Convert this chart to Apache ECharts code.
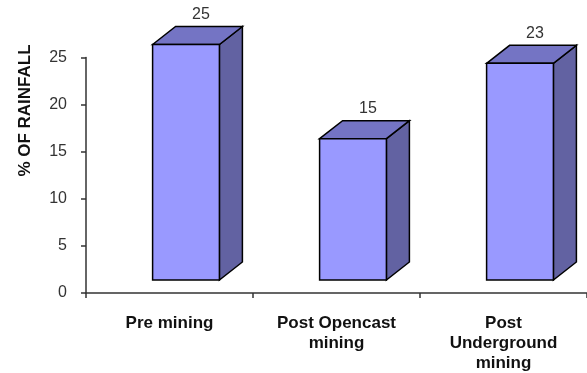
<!DOCTYPE html>
<html>
<head>
<meta charset="utf-8">
<script src="https://cdn.jsdelivr.net/npm/echarts@6/dist/echarts.min.js"></script>
<style>
html,body{margin:0;padding:0;background:#fff;}
#chart{width:587px;height:373px;}
</style>
</head>
<body>
<div id="chart"></div>
<script>
var categories = ['Pre mining', 'Post Opencast\nmining', 'Post\nUnderground\nmining'];
var rainfallPct = [25, 15, 23];
var yTicks = [0, 5, 10, 15, 20, 25];
var yTitle = '% OF RAINFALL';

var chart = echarts.init(document.getElementById('chart'), null, {renderer: 'canvas'});

var FONT = '"Liberation Sans", Arial, sans-serif';
var FRONT = '#9999FF', TOP = '#7474C4', SIDE = '#6262A2';

function renderItem(params, api) {
  var idx = api.value(0), v = api.value(1);
  var topPt = api.coord([idx, v]);
  var basePt = api.coord([idx, 0]);
  var bw = api.size([1, 0])[0] * 0.4;
  var ox = 16.5, oy = -13, dx = 23, dy = -18;
  var x0 = topPt[0] - bw / 2 + ox, x1 = topPt[0] + bw / 2 + ox;
  var yT = topPt[1] + oy, yB = basePt[1] + oy;
  var stroke = {stroke: '#000', lineWidth: 1.5, lineJoin: 'miter'};
  return {
    type: 'group',
    children: [
      {type: 'polygon', shape: {points: [[x1, yT], [x1 + dx, yT + dy], [x1 + dx, yB + dy], [x1, yB]]},
        style: Object.assign({fill: SIDE}, stroke)},
      {type: 'polygon', shape: {points: [[x0, yT], [x0 + dx, yT + dy], [x1 + dx, yT + dy], [x1, yT]]},
        style: Object.assign({fill: TOP}, stroke)},
      {type: 'rect', shape: {x: x0, y: yT, width: x1 - x0, height: yB - yT},
        style: Object.assign({fill: FRONT}, stroke)},
      {type: 'text', x: (x0 + x1) / 2 + 15, y: yT + dy - 4,
        style: {text: String(api.value(1)), fill: '#333', font: '16px ' + FONT,
          textAlign: 'center', textVerticalAlign: 'bottom'}}
    ]
  };
}

var option = {
  backgroundColor: '#fff',
  animation: false,
  grid: {left: 86, right: -1, top: 57.5, bottom: 79, containLabel: false},
  xAxis: {
    type: 'category',
    data: categories,
    boundaryGap: true,
    axisLine: {show: true, lineStyle: {color: '#333', width: 1.5}},
    axisTick: {show: true, length: 5, lineStyle: {color: '#333', width: 1.5}},
    axisLabel: {interval: 0, margin: 20, fontSize: 17, fontWeight: 'bold', fontFamily: FONT,
      color: '#111', lineHeight: 20}
  },
  yAxis: {
    type: 'value',
    min: yTicks[0], max: yTicks[yTicks.length - 1], interval: 5,
    axisLine: {show: true, lineStyle: {color: '#333', width: 1.5}},
    axisTick: {show: true, length: 5, lineStyle: {color: '#333', width: 1.5}},
    splitLine: {show: false},
    axisLabel: {margin: 19, fontSize: 16, fontFamily: FONT, color: '#333'}
  },
  graphic: [{
    type: 'text', x: 25.5, y: 110.5, rotation: Math.PI / 2,
    style: {text: yTitle, font: 'bold 17px ' + FONT, fill: '#111',
      textAlign: 'center', textVerticalAlign: 'middle'}
  }],
  series: [{
    type: 'custom',
    renderItem: renderItem,
    clip: false,
    data: rainfallPct.map(function (v, i) { return [i, v]; })
  }]
};
chart.setOption(option);
</script>
</body>
</html>
